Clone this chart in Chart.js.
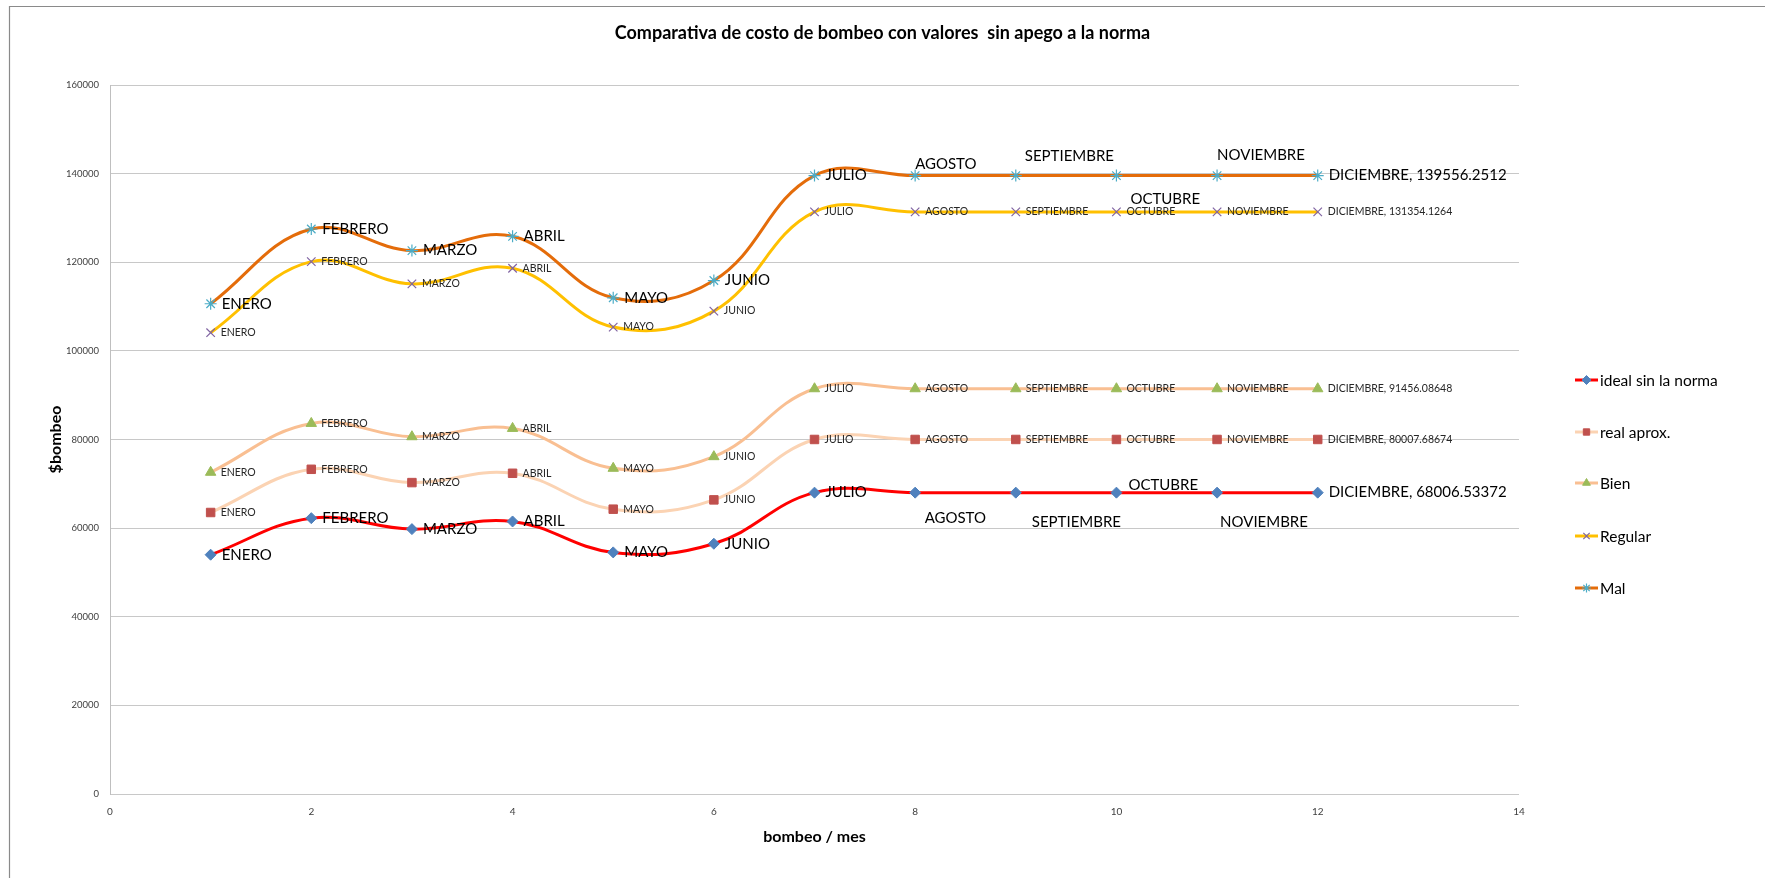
<!DOCTYPE html>
<html>
<head>
<meta charset="utf-8">
<script src="https://cdn.jsdelivr.net/npm/chart.js@4"></script>
<style>
  html, body { margin: 0; padding: 0; background: #fff; }
  #wrap { width: 1765px; height: 878px; }
</style>
</head>
<body>
<div id="wrap"><canvas id="graficaBombeo" width="1765" height="878"></canvas></div>
<script>
// datos
var mes = [1, 2, 3, 4, 5, 6, 7, 8, 9, 10, 11, 12];
var meses = ['ENERO', 'FEBRERO', 'MARZO', 'ABRIL', 'MAYO', 'JUNIO', 'JULIO', 'AGOSTO', 'SEPTIEMBRE', 'OCTUBRE', 'NOVIEMBRE', 'DICIEMBRE'];

var idealSinNorma = [54000, 62250, 59775, 61500, 54525, 56475, 68006.53372, 68006.53372, 68006.53372, 68006.53372, 68006.53372, 68006.53372];
var realAprox = [63525, 73275, 70275, 72375, 64275, 66375, 80007.68674, 80007.68674, 80007.68674, 80007.68674, 80007.68674, 80007.68674];
var bien = [72600, 83625, 80625, 82500, 73500, 76125, 91456.08648, 91456.08648, 91456.08648, 91456.08648, 91456.08648, 91456.08648];
var regular = [104100, 120150, 115125, 118650, 105375, 108975, 131354.1264, 131354.1264, 131354.1264, 131354.1264, 131354.1264, 131354.1264];
var mal = [110630, 127500, 122625, 125850, 111980, 115875, 139556.2512, 139556.2512, 139556.2512, 139556.2512, 139556.2512, 139556.2512];

var ticksY = [0, 20000, 40000, 60000, 80000, 100000, 120000, 140000, 160000];
var ticksX = [0, 2, 4, 6, 8, 10, 12, 14];

var FUENTE = 'Lato, "Noto Sans", sans-serif';
Chart.defaults.font.family = FUENTE;

function puntos(valores) {
  return mes.map(function (m, i) { return { x: m, y: valores[i] }; });
}

// series: nombre, datos, color de linea, marcador
var series = [
  { label: 'ideal sin la norma', data: puntos(idealSinNorma), borderColor: '#FF0000', pointStyle: 'rectRot', pointBackgroundColor: '#4F81BD', pointBorderColor: '#4F81BD', pointRadius: 5.5, grande: true },
  { label: 'real aprox.', data: puntos(realAprox), borderColor: '#FBD3B3', pointStyle: 'rect', pointBackgroundColor: '#C0504D', pointBorderColor: '#C0504D', pointRadius: 6, grande: false },
  { label: 'Bien', data: puntos(bien), borderColor: '#F9BF92', pointStyle: 'triangle', pointBackgroundColor: '#9BBB59', pointBorderColor: '#9BBB59', pointRadius: 6, grande: false },
  { label: 'Regular', data: puntos(regular), borderColor: '#FFC000', pointStyle: 'crossRot', pointBackgroundColor: '#8064A2', pointBorderColor: '#8064A2', pointRadius: 6, pointBorderWidth: 1.2, grande: false },
  { label: 'Mal', data: puntos(mal), borderColor: '#E46C0A', pointStyle: 'star', pointBackgroundColor: '#4BACC6', pointBorderColor: '#4BACC6', pointRadius: 6, pointBorderWidth: 1.2, grande: true }
];

// ajustes de posicion de etiquetas que no van a la derecha
var ajusteEtiquetas = {
  0: { 7: [9.5, 26], 8: [16, 30], 9: [12, -7], 10: [3, 30] },
  4: { 7: [0, -11], 8: [9, -19], 9: [14, 23.5], 10: [0, -20] }
};

var decoracion = {
  id: 'decoracion',
  beforeDraw: function (chart) {
    var ctx = chart.ctx;
    ctx.save();
    ctx.fillStyle = '#fff';
    ctx.fillRect(0, 0, chart.width, chart.height);
    ctx.strokeStyle = '#8A8A8A';
    ctx.lineWidth = 1.2;
    ctx.beginPath();
    ctx.moveTo(9.5, chart.height);
    ctx.lineTo(9.5, 6.5);
    ctx.lineTo(chart.width, 6.5);
    ctx.stroke();
    ctx.restore();
  },
  afterDraw: function (chart) {
    var ctx = chart.ctx;
    var area = chart.chartArea;
    ctx.save();
    ctx.fillStyle = '#000';
    ctx.textBaseline = 'middle';

    // titulo
    ctx.textAlign = 'center';
    ctx.font = 'bold 18px ' + FUENTE;
    ctx.fillText('Comparativa de costo de bombeo con valores  sin apego a la norma', chart.width / 2, 33);

    // titulos de ejes
    ctx.font = 'bold 16px ' + FUENTE;
    ctx.fillText('bombeo / mes', (area.left + area.right) / 2, 837);
    ctx.save();
    ctx.translate(56, (area.top + area.bottom) / 2);
    ctx.rotate(-Math.PI / 2);
    ctx.fillText('$bombeo', 0, 0);
    ctx.restore();

    // etiquetas de datos
    ctx.textAlign = 'left';
    chart.data.datasets.forEach(function (ds, i) {
      var meta = chart.getDatasetMeta(i);
      ctx.font = (ds.grande ? '15px ' : '10.5px ') + FUENTE;
      ctx.fillStyle = ds.grande ? '#000' : '#262626';
      meta.data.forEach(function (pt, j) {
        var texto = meses[j];
        if (j === meses.length - 1) texto += ', ' + ds.data[j].y;
        var aj = (ajusteEtiquetas[i] && ajusteEtiquetas[i][j]) || [ds.grande ? 11 : 10, 0];
        ctx.fillText(texto, pt.x + aj[0], pt.y + aj[1]);
      });
    });

    // leyenda
    var yLeyenda = [380, 432, 483, 536, 588];
    ctx.font = '15.5px ' + FUENTE;
    ctx.fillStyle = '#000';
    chart.data.datasets.forEach(function (ds, i) {
      var y = yLeyenda[i];
      ctx.strokeStyle = ds.borderColor;
      ctx.lineWidth = 3;
      ctx.beginPath();
      ctx.moveTo(1575, y);
      ctx.lineTo(1598, y);
      ctx.stroke();
      ctx.fillStyle = ds.pointBackgroundColor;
      ctx.strokeStyle = ds.pointBorderColor;
      ctx.lineWidth = ds.pointBorderWidth || 1;
      Chart.helpers.drawPoint(ctx, { pointStyle: ds.pointStyle, radius: 4.5, rotation: 0, borderWidth: ds.pointBorderWidth || 1 }, 1586.5, y);
      ctx.fillStyle = '#000';
      ctx.fillText(ds.label, 1600, y + 1);
    });
    ctx.restore();
  }
};

var ctx = document.getElementById('graficaBombeo').getContext('2d');

var graficaBombeo = new Chart(ctx, {
  type: 'line',
  data: {
    datasets: series.map(function (s) {
      return Object.assign({
        borderWidth: 3,
        tension: 0.4,
        fill: false,
        pointBorderWidth: 1,
        pointHoverRadius: 6
      }, s);
    })
  },
  options: {
    responsive: false,
    animation: false,
    devicePixelRatio: 1,
    layout: { padding: { top: 85, right: 246, bottom: 0, left: 0 } },
    plugins: {
      legend: { display: false },
      title: { display: false },
      tooltip: { enabled: false }
    },
    scales: {
      x: {
        type: 'linear',
        min: 0,
        max: 14,
        afterFit: function (scale) { scale.height = 84; },
        afterBuildTicks: function (axis) { axis.ticks = ticksX.map(function (v) { return { value: v }; }); },
        grid: { display: false, drawTicks: false },
        border: { display: false },
        ticks: { padding: 12, color: '#404040', font: { size: 10 }, callback: function (v) { return String(v); } }
      },
      y: {
        min: 0,
        max: 160000,
        afterFit: function (scale) { scale.width = 110; },
        afterBuildTicks: function (axis) { axis.ticks = ticksY.map(function (v) { return { value: v }; }); },
        grid: { color: '#C8C8C8', lineWidth: 1, drawTicks: false },
        border: { display: true, color: '#BFBFBF', width: 1 },
        ticks: { padding: 11, color: '#404040', font: { size: 9.5 }, callback: function (v) { return String(v); } }
      }
    }
  },
  plugins: [decoracion]
});
</script>
</body>
</html>
